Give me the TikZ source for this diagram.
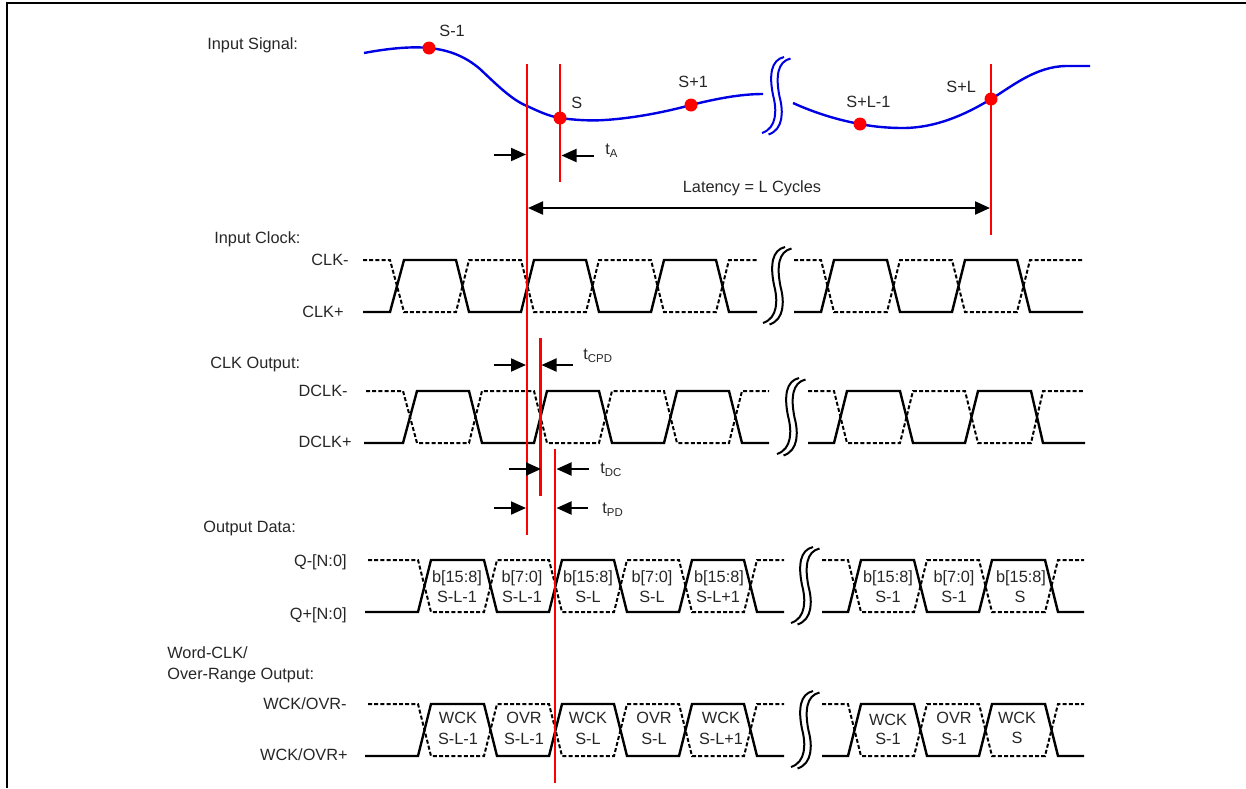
\documentclass[tikz,border=0pt]{standalone}
\usepackage{fontspec}
\setmainfont{Liberation Sans}
\usetikzlibrary{arrows.meta}
\newcommand{\BreakMark}[3]{
	\begin{scope}[shift = {(#2,#3)}]
		\draw[#1] (0,0) .. controls (15,-5) and (15,-23) .. (11,-38) .. controls (7,-58) and (9,-73) .. (22,-76);
		\draw[#1] (6.5,1.5) .. controls (21.5,-3.5) and (21.5,-21.5) .. (17.5,-36.5) .. controls (13.5,-56.5) and (15.5,-71.5) .. (28.5,-74.5);
	\end{scope}
}

\begin{document}
\begin{tikzpicture}[x = 0.5pt, y = -0.5pt]
	\tikzstyle{textStyle} = [font = \fontsize{8.15}{9.5}\selectfont, text = black!85, inner sep = 0pt, text height = 5.8pt, text depth = 0pt]
	\tikzstyle{leftStyle} = [textStyle, anchor = west]
	\tikzstyle{rightStyle} = [textStyle, anchor = east]
	\tikzstyle{cellStyle} = [textStyle, anchor = center]
	\tikzstyle{solidStyle} = [line width = 1.2pt, line join = miter]
	\tikzstyle{dashStyle} = [line width = 1pt, dash pattern = on 2pt off 1.1pt]
	\tikzstyle{blueStyle} = [line width = 1.2pt, color = blue!90!black]
	\tikzstyle{breakBlueStyle} = [line width = 1pt, color = blue!90!black]
	\tikzstyle{breakStyle} = [line width = 1pt, color = black]
	\tikzstyle{redStyle} = [line width = 1.15pt, color = red]
	\tikzstyle{dotStyle} = [shape = circle, minimum size = 6.5pt, inner sep = 0pt, fill = red]
	\tikzstyle{gapStyle} = [line width = 1pt, -{Triangle[length = 7.5pt, width = 6.5pt]}]
	\tikzstyle{spanStyle} = [line width = 1.1pt, {Triangle[length = 7.5pt, width = 6.5pt]}-{Triangle[length = 7.5pt, width = 6.5pt]}]
	\useasboundingbox (0,0) rectangle (1246,788);
	% frame
	\draw[line width = 1pt] (7,788) -- (7,3) -- (1246,3);
	% input signal
	\draw[blueStyle] (364,53) .. controls (385,49) and (410,46) .. (429,48) .. controls (450,50) and (466,57) .. (480,69) .. controls (497,85) and (512,100) .. (527,106) .. controls (538,111) and (548,116) .. (560,118) .. controls (575,120) and (590,121) .. (605,120) .. controls (635,118) and (665,112) .. (691,105) .. controls (715,99) and (740,94) .. (763,94);
	\draw[blueStyle] (793,103) .. controls (815,113) and (838,120) .. (860,124) .. controls (875,127) and (890,128) .. (903,128) .. controls (935,128) and (965,115) .. (991,99) .. controls (1010,88) and (1035,66) .. (1067,66) -- (1090,66);
	\BreakMark{breakBlueStyle}{762}{133}
	% input clock
	\draw[solidStyle] (363,312) -- (390,312) -- (404,260) -- (456,260) -- (469,312) -- (521,312) -- (534,260) -- (586,260) -- (599,312) -- (651,312) -- (664,260) -- (716,260) -- (729,312) -- (757,312);
	\draw[dashStyle] (363,260) -- (390,260) -- (404,312) -- (456,312) -- (469,260) -- (521,260) -- (534,312) -- (586,312) -- (599,260) -- (651,260) -- (664,312) -- (716,312) -- (729,260) -- (757,260);
	\draw[solidStyle] (794,312) -- (821,312) -- (834,260) -- (887,260) -- (900,312) -- (952,312) -- (965,260) -- (1017,260) -- (1030,312) -- (1083,312);
	\draw[dashStyle] (794,260) -- (821,260) -- (834,312) -- (887,312) -- (900,260) -- (952,260) -- (965,312) -- (1017,312) -- (1030,260) -- (1083,260);
	\BreakMark{breakStyle}{763}{323}
	% clk output
	\draw[solidStyle] (364,443) -- (403,443) -- (417,391) -- (469,391) -- (482,443) -- (534,443) -- (547,391) -- (599,391) -- (612,443) -- (664,443) -- (677,391) -- (729,391) -- (742,443) -- (769,443);
	\draw[dashStyle] (366,391) -- (403,391) -- (417,443) -- (469,443) -- (482,391) -- (534,391) -- (547,443) -- (599,443) -- (612,391) -- (664,391) -- (677,443) -- (729,443) -- (742,391) -- (769,391);
	\draw[solidStyle] (808,443) -- (834,443) -- (847,391) -- (900,391) -- (913,443) -- (965,443) -- (978,391) -- (1031,391) -- (1043,443) -- (1085,443);
	\draw[dashStyle] (808,391) -- (834,391) -- (847,443) -- (900,443) -- (913,391) -- (965,391) -- (978,443) -- (1031,443) -- (1043,391) -- (1085,391);
	\BreakMark{breakStyle}{777}{454}
	% output data
	\draw[solidStyle] (365,612) -- (418,612) -- (431,560) -- (484,560) -- (497,612) -- (549,612) -- (562,560) -- (614,560) -- (627,612) -- (679,612) -- (692,560) -- (744,560) -- (757,612) -- (784,612);
	\draw[dashStyle] (368,560) -- (418,560) -- (431,612) -- (484,612) -- (497,560) -- (549,560) -- (562,612) -- (614,612) -- (627,560) -- (679,560) -- (692,612) -- (744,612) -- (757,560) -- (784,560);
	\draw[solidStyle] (822,612) -- (848,612) -- (861,560) -- (914,560) -- (927,612) -- (979,612) -- (992,560) -- (1045,560) -- (1058,612) -- (1084,612);
	\draw[dashStyle] (822,560) -- (848,560) -- (861,612) -- (914,612) -- (927,560) -- (979,560) -- (992,612) -- (1045,612) -- (1058,560) -- (1084,560);
	\BreakMark{breakStyle}{791}{623}
	% word clock
	\draw[solidStyle] (365,756) -- (418,756) -- (431,704) -- (484,704) -- (497,756) -- (549,756) -- (562,704) -- (614,704) -- (627,756) -- (679,756) -- (692,704) -- (744,704) -- (757,756) -- (784,756);
	\draw[dashStyle] (368,704) -- (418,704) -- (431,756) -- (484,756) -- (497,704) -- (549,704) -- (562,756) -- (614,756) -- (627,704) -- (679,704) -- (692,756) -- (744,756) -- (757,704) -- (784,704);
	\draw[solidStyle] (822,756) -- (848,756) -- (861,704) -- (914,704) -- (927,756) -- (979,756) -- (992,704) -- (1045,704) -- (1058,756) -- (1084,756);
	\draw[dashStyle] (822,704) -- (848,704) -- (861,756) -- (914,756) -- (927,704) -- (979,704) -- (992,756) -- (1045,756) -- (1058,704) -- (1084,704);
	\BreakMark{breakStyle}{791}{767}
	% red timing lines
	\coordinate (r1top) at (527,64);
	\coordinate (r1bot) at (527,535);
	\coordinate (r2top) at (560,64);
	\coordinate (r2bot) at (560,182);
	\coordinate (r3top) at (991,64);
	\coordinate (r3bot) at (991,235);
	\coordinate (r4top) at (540.5,338);
	\coordinate (r4bot) at (540.5,496);
	\coordinate (r5top) at (555,449);
	\coordinate (r5bot) at (555,783);
	\draw[redStyle] (r1top) -- (r1bot);
	\draw[redStyle] (r2top) -- (r2bot);
	\draw[redStyle] (r3top) -- (r3bot);
	\draw[redStyle] (r4top) -- (r4bot);
	\draw[redStyle] (r5top) -- (r5bot);
	\node[dotStyle] (s0) at (429,48) {};
	\node[dotStyle] (s1) at (560,118) {};
	\node[dotStyle] (s2) at (691,105) {};
	\node[dotStyle] (s3) at (860,124) {};
	\node[dotStyle] (s4) at (991,99) {};
	% arrows
	\coordinate (tAa) at (494,154.5);
	\coordinate (tAb) at (526,154.5);
	\coordinate (tAc) at (594,155.5);
	\coordinate (tAd) at (561.5,155.5);
	\coordinate (tCa) at (494,365);
	\coordinate (tCb) at (526,365);
	\coordinate (tCc) at (573,365);
	\coordinate (tCd) at (541.5,365);
	\coordinate (tDa) at (509,469);
	\coordinate (tDb) at (541,469);
	\coordinate (tDc) at (589,469);
	\coordinate (tDd) at (556.5,469);
	\coordinate (tPa) at (494,508);
	\coordinate (tPb) at (526,508);
	\coordinate (tPc) at (588,508);
	\coordinate (tPd) at (556.5,508);
	\coordinate (spanA) at (528,208);
	\coordinate (spanB) at (990,208);
	\draw[gapStyle] (tAa) -- (tAb);
	\draw[gapStyle] (tAc) -- (tAd);
	\draw[gapStyle] (tCa) -- (tCb);
	\draw[gapStyle] (tCc) -- (tCd);
	\draw[gapStyle] (tDa) -- (tDb);
	\draw[gapStyle] (tDc) -- (tDd);
	\draw[gapStyle] (tPa) -- (tPb);
	\draw[gapStyle] (tPc) -- (tPd);
	\draw[spanStyle] (spanA) -- (spanB);
	% labels
	\node[leftStyle] (lSignal) at (207,44) {Input Signal:};
	\node[leftStyle] (lS0) at (439,31) {S-1};
	\node[leftStyle] (lS1) at (571,103) {S};
	\node[leftStyle] (lS2) at (678,82) {S+1};
	\node[leftStyle] (lS3) at (846,102) {S+L-1};
	\node[leftStyle] (lS4) at (946,87) {S+L};
	\node[leftStyle] (ltA) at (605,149) {t\textsubscript{A}};
	\node[cellStyle] (lLatency) at (752,187) {Latency = L Cycles};
	\node[leftStyle] (lClock) at (214,238) {Input Clock:};
	\node[rightStyle] (lClkm) at (349,260) {CLK-};
	\node[rightStyle] (lClkp) at (344,312) {CLK+};
	\node[leftStyle] (lClkOut) at (210,363) {CLK Output:};
	\node[rightStyle] (lDclkm) at (348,391) {DCLK-};
	\node[rightStyle] (lDclkp) at (352,442) {DCLK+};
	\node[leftStyle] (ltCPD) at (583,354) {t\textsubscript{CPD}};
	\node[leftStyle] (ltDC) at (600,468) {t\textsubscript{DC}};
	\node[leftStyle] (ltPD) at (602,508) {t\textsubscript{PD}};
	\node[leftStyle] (lData) at (203,527) {Output Data:};
	\node[rightStyle] (lQm) at (347,561) {Q-[N:0]};
	\node[rightStyle] (lQp) at (347,614) {Q+[N:0]};
	\node[leftStyle] (lWord) at (167,653) {Word-CLK/};
	\node[leftStyle] (lRange) at (167,674) {Over-Range Output:};
	\node[rightStyle] (lWm) at (347,704) {WCK/OVR-};
	\node[rightStyle] (lWp) at (348,755) {WCK/OVR+};
	% cells of the data row
	\node[cellStyle] (q1a) at (457,577) {b[15:8]};
	\node[cellStyle] (q1b) at (457,597) {S-L-1};
	\node[cellStyle] (q2a) at (522,577) {b[7:0]};
	\node[cellStyle] (q2b) at (522,597) {S-L-1};
	\node[cellStyle] (q3a) at (588,577) {b[15:8]};
	\node[cellStyle] (q3b) at (588,597) {S-L};
	\node[cellStyle] (q4a) at (652,577) {b[7:0]};
	\node[cellStyle] (q4b) at (652,597) {S-L};
	\node[cellStyle] (q5a) at (719,577) {b[15:8]};
	\node[cellStyle] (q5b) at (718,597) {S-L+1};
	\node[cellStyle] (q6a) at (888,577) {b[15:8]};
	\node[cellStyle] (q6b) at (888,597) {S-1};
	\node[cellStyle] (q7a) at (954,577) {b[7:0]};
	\node[cellStyle] (q7b) at (954,597) {S-1};
	\node[cellStyle] (q8a) at (1021,577) {b[15:8]};
	\node[cellStyle] (q8b) at (1020,597) {S};
	% cells of the word clock row
	\node[cellStyle] (w1a) at (458,718) {WCK};
	\node[cellStyle] (w1b) at (458,739) {S-L-1};
	\node[cellStyle] (w2a) at (524,718) {OVR};
	\node[cellStyle] (w2b) at (524,739) {S-L-1};
	\node[cellStyle] (w3a) at (588,718) {WCK};
	\node[cellStyle] (w3b) at (588,739) {S-L};
	\node[cellStyle] (w4a) at (654,718) {OVR};
	\node[cellStyle] (w4b) at (654,739) {S-L};
	\node[cellStyle] (w5a) at (721,718) {WCK};
	\node[cellStyle] (w5b) at (721,739) {S-L+1};
	\node[cellStyle] (w6a) at (888,720) {WCK};
	\node[cellStyle] (w6b) at (888,739) {S-1};
	\node[cellStyle] (w7a) at (954,718) {OVR};
	\node[cellStyle] (w7b) at (954,739) {S-1};
	\node[cellStyle] (w8a) at (1017,718) {WCK};
	\node[cellStyle] (w8b) at (1017,738) {S};
\end{tikzpicture}
\end{document}
